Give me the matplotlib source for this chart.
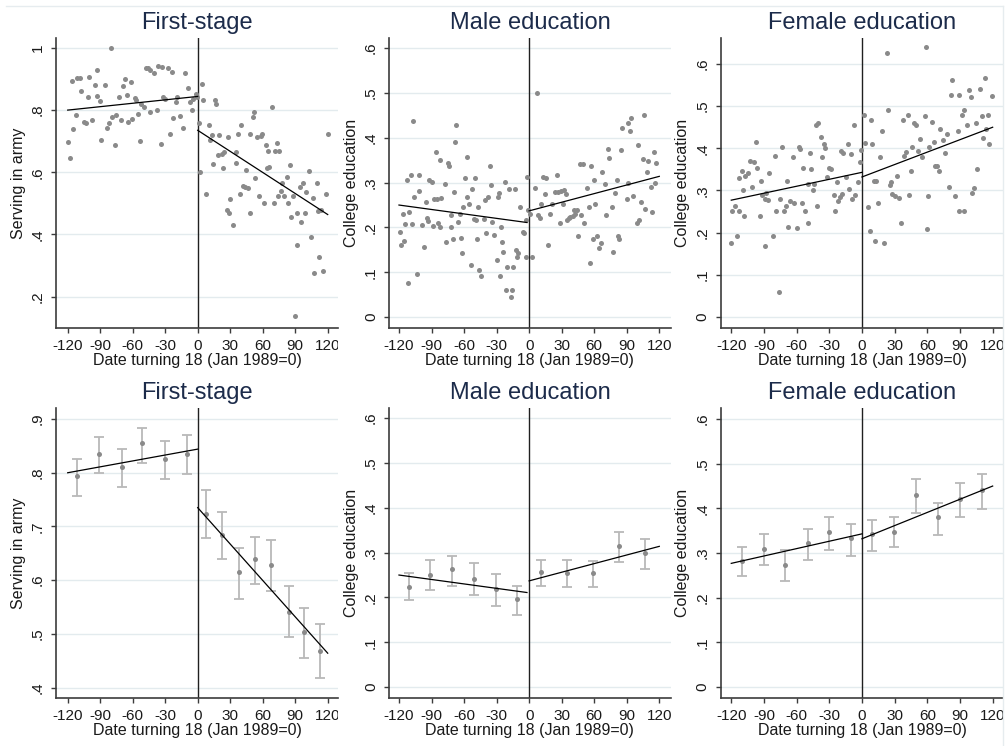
import matplotlib
matplotlib.use('Agg')
import matplotlib.pyplot as plt
from matplotlib.lines import Line2D
from matplotlib.transforms import Bbox, TransformedBbox

## Data
# Top row: monthly scatter, x = months relative to Jan 1989
fs_x = [-120, -118, -116, -115, -112, -111, -109, -108, -105, -103, -101, -100, -98, -95, -93,
        -93, -90, -89, -86, -84, -82, -80, -79, -76, -75, -73, -71, -69, -67, -65, -64, -62,
        -61, -58, -57, -55, -53, -52, -50, -48, -46, -44, -44, -40, -38, -37, -34, -33, -32,
        -30, -27, -26, -24, -23, -20, -19, -16, -14, -12, -9, -7, -5, -4, -2, -1,
        1, 2, 4, 5, 8, 10, 11, 13, 14, 16, 17, 19, 20, 22, 23, 24, 27, 28, 29, 30, 33, 35, 35,
        37, 39, 40, 42, 44, 45, 46, 48, 48, 51, 52, 53, 55, 57, 58, 59, 61, 63, 64, 66, 65, 69,
        70, 71, 73, 74, 75, 77, 78, 80, 82, 83, 85, 86, 88, 90, 92, 92, 94, 95, 97, 99, 100,
        103, 105, 106, 107, 110, 111, 112, 114, 116, 118, 120]
fs_y = [0.696, 0.647, 0.893, 0.738, 0.784, 0.902, 0.902, 0.861, 0.763, 0.759, 0.843, 0.905,
        0.768, 0.88, 0.93, 0.846, 0.83, 0.704, 0.88, 0.741, 0.76, 1.0, 0.779, 0.688, 0.784,
        0.843, 0.768, 0.877, 0.9, 0.85, 0.763, 0.889, 0.77, 0.84, 0.832, 0.789, 0.7, 0.821,
        0.811, 0.934, 0.934, 0.928, 0.793, 0.918, 0.8, 0.943, 0.69, 0.939, 0.843, 0.836, 0.934,
        0.722, 0.923, 0.776, 0.827, 0.843, 0.781, 0.743, 0.92, 0.872, 0.827, 0.8, 0.837, 0.853,
        0.843,
        0.757, 0.6, 0.883, 0.834, 0.53, 0.751, 0.704, 0.72, 0.627, 0.832, 0.821, 0.656, 0.72,
        0.659, 0.613, 0.666, 0.477, 0.712, 0.468, 0.513, 0.431, 0.631, 0.666, 0.722, 0.53,
        0.751, 0.557, 0.554, 0.607, 0.549, 0.722, 0.47, 0.779, 0.794, 0.581, 0.712, 0.524,
        0.717, 0.722, 0.5, 0.688, 0.613, 0.618, 0.669, 0.811, 0.5, 0.669, 0.693, 0.524, 0.669,
        0.541, 0.567, 0.524, 0.586, 0.5, 0.624, 0.456, 0.524, 0.139, 0.468, 0.367, 0.554,
        0.439, 0.567, 0.468, 0.538, 0.605, 0.391, 0.517, 0.276, 0.565, 0.474, 0.327, 0.477,
        0.281, 0.53, 0.722]

male_x = [-119, -118, -116, -115, -114, -113, -112, -111, -109, -108, -107, -106, -103, -102,
          -102, -99, -97, -95, -94, -93, -92, -90, -89, -88, -86, -85, -84, -82, -82, -81, -78,
          -77, -75, -74, -72, -72, -70, -69, -68, -67, -66, -64, -63, -62, -61, -59, -57, -57,
          -55, -54, -53, -51, -50, -49, -48, -47, -46, -44, -42, -41, -40, -38, -36, -35, -34,
          -32, -30, -29, -28, -27, -26, -25, -24, -22, -21, -20, -19, -17, -16, -15, -13, -12,
          -11, -10, -8, -6, -5, -3, -3, -2, -1,
          1, 3, 5, 7, 8, 10, 11, 13, 15, 16, 17, 19, 21, 24, 26, 27, 28, 29, 31, 32, 34, 35, 37,
          38, 40, 41, 42, 44, 45, 47, 48, 50, 51, 53, 55, 56, 57, 59, 60, 61, 63, 64, 66, 67, 70,
          71, 73, 74, 76, 77, 79, 81, 82, 83, 85, 86, 90, 91, 91, 93, 94, 96, 99, 100, 101, 103,
          105, 106, 107, 109, 110, 112, 113, 115, 116, 117]
male_y = [0.190, 0.161, 0.231, 0.170, 0.208, 0.306, 0.077, 0.234, 0.318, 0.208, 0.437, 0.269,
          0.097, 0.318, 0.282, 0.205, 0.157, 0.257, 0.222, 0.215, 0.306, 0.302, 0.203, 0.263,
          0.369, 0.263, 0.209, 0.35, 0.202, 0.265, 0.298, 0.167, 0.344, 0.336, 0.228, 0.202,
          0.175, 0.278, 0.391, 0.428, 0.213, 0.23, 0.176, 0.144, 0.246, 0.31, 0.358, 0.269,
          0.252, 0.116, 0.285, 0.218, 0.31, 0.217, 0.175, 0.246, 0.106, 0.092, 0.218, 0.261,
          0.188, 0.269, 0.336, 0.295, 0.213, 0.183, 0.127, 0.269, 0.276, 0.092, 0.202, 0.168,
          0.146, 0.302, 0.06, 0.112, 0.286, 0.045, 0.06, 0.112, 0.286, 0.15, 0.135, 0.142,
          0.245, 0.19, 0.187, 0.135, 0.217, 0.313, 0.239,
          0.231, 0.135, 0.289, 0.5, 0.228, 0.222, 0.252, 0.313, 0.275, 0.31, 0.16, 0.231,
          0.252, 0.28, 0.318, 0.28, 0.21, 0.282, 0.252, 0.283, 0.275, 0.217, 0.222, 0.224,
          0.225, 0.24, 0.23, 0.24, 0.181, 0.341, 0.228, 0.341, 0.21, 0.287, 0.246, 0.121,
          0.336, 0.175, 0.306, 0.252, 0.181, 0.155, 0.166, 0.324, 0.298, 0.228, 0.375, 0.356,
          0.246, 0.146, 0.276, 0.306, 0.181, 0.175, 0.373, 0.422, 0.263, 0.3, 0.432, 0.416,
          0.444, 0.27, 0.21, 0.384, 0.217, 0.257, 0.352, 0.45, 0.241, 0.323, 0.349, 0.291,
          0.234, 0.369, 0.3, 0.344]

fem_x = [-120, -119, -117, -115, -113, -113, -110, -109, -108, -107, -105, -103, -101, -99,
         -97, -96, -94, -93, -92, -89, -89, -88, -86, -85, -82, -80, -79, -76, -75, -73, -72,
         -70, -69, -68, -66, -63, -62, -60, -58, -57, -55, -54, -52, -50, -50, -48, -47, -45,
         -44, -42, -41, -40, -38, -37, -35, -34, -32, -30, -28, -26, -25, -23, -22, -20, -19,
         -18, -17, -15, -13, -12, -10, -9, -7, -6, -4, -2, -1,
         2, 3, 6, 7, 8, 9, 11, 12, 13, 15, 17, 18, 20, 23, 24, 26, 27, 28, 30, 32, 34, 36, 38,
         39, 40, 42, 43, 45, 46, 48, 50, 51, 53, 55, 58, 59, 60, 61, 62, 64, 66, 67, 69, 71,
         72, 74, 76, 78, 80, 82, 83, 85, 88, 89, 89, 92, 94, 94, 96, 98, 100, 101, 103, 105,
         106, 108, 110, 111, 113, 114, 116, 117, 119]
fem_y = [0.175, 0.252, 0.262, 0.193, 0.329, 0.252, 0.345, 0.301, 0.24, 0.334, 0.341, 0.371,
         0.308, 0.368, 0.416, 0.353, 0.24, 0.323, 0.289, 0.168, 0.279, 0.293, 0.277, 0.341,
         0.192, 0.382, 0.252, 0.059, 0.279, 0.404, 0.252, 0.262, 0.323, 0.214, 0.274, 0.379,
         0.27, 0.21, 0.404, 0.398, 0.27, 0.353, 0.252, 0.224, 0.315, 0.39, 0.35, 0.301, 0.315,
         0.455, 0.263, 0.459, 0.426, 0.379, 0.41, 0.4, 0.333, 0.353, 0.35, 0.289, 0.252, 0.319,
         0.274, 0.285, 0.394, 0.292, 0.39, 0.333, 0.41, 0.303, 0.387, 0.279, 0.455, 0.289,
         0.319, 0.368, 0.396,
         0.479, 0.413, 0.26, 0.205, 0.467, 0.41, 0.323, 0.179, 0.323, 0.27, 0.38, 0.44, 0.175,
         0.627, 0.492, 0.313, 0.321, 0.291, 0.287, 0.334, 0.283, 0.224, 0.467, 0.382, 0.392,
         0.479, 0.289, 0.345, 0.404, 0.461, 0.455, 0.394, 0.421, 0.379, 0.477, 0.641, 0.208,
         0.287, 0.404, 0.463, 0.416, 0.357, 0.359, 0.347, 0.447, 0.42, 0.39, 0.434, 0.309,
         0.526, 0.562, 0.287, 0.442, 0.526, 0.252, 0.479, 0.492, 0.252, 0.455, 0.538, 0.522,
         0.295, 0.305, 0.461, 0.35, 0.54, 0.477, 0.424, 0.566, 0.445, 0.479, 0.41, 0.525]

# Bottom row: binned means with confidence intervals
fs_bin_x = [-111, -91, -70, -51, -30, -10, 8, 22, 38, 53, 68, 84, 98, 113]
fs_bin_y = [0.794, 0.835, 0.81, 0.855, 0.825, 0.835, 0.723, 0.685, 0.615, 0.639, 0.629, 0.541, 0.503, 0.469]
fs_bin_lo = [0.757, 0.799, 0.773, 0.819, 0.788, 0.797, 0.678, 0.639, 0.564, 0.593, 0.579, 0.494, 0.455, 0.417]
fs_bin_hi = [0.826, 0.867, 0.845, 0.884, 0.86, 0.87, 0.768, 0.727, 0.659, 0.681, 0.674, 0.589, 0.548, 0.519]

male_bin_x = [-111, -91, -71, -51, -31, -11, 11, 35, 59, 83, 107]
male_bin_y = [0.224, 0.25, 0.263, 0.241, 0.218, 0.196, 0.256, 0.254, 0.254, 0.315, 0.3]
male_bin_lo = [0.194, 0.217, 0.226, 0.206, 0.181, 0.161, 0.226, 0.223, 0.223, 0.28, 0.263]
male_bin_hi = [0.255, 0.284, 0.293, 0.276, 0.252, 0.226, 0.284, 0.284, 0.281, 0.347, 0.33]

fem_bin_x = [-110, -90, -71, -50, -30, -10, 9, 29, 50, 70, 90, 110]
fem_bin_y = [0.283, 0.309, 0.274, 0.322, 0.348, 0.333, 0.343, 0.348, 0.43, 0.38, 0.422, 0.441]
fem_bin_lo = [0.249, 0.273, 0.238, 0.284, 0.307, 0.293, 0.305, 0.313, 0.39, 0.34, 0.381, 0.398]
fem_bin_hi = [0.314, 0.343, 0.307, 0.355, 0.381, 0.366, 0.374, 0.381, 0.465, 0.413, 0.456, 0.478]

# Linear fits on each side of the cutoff
fs_fit_left_x, fs_fit_left_y = [-120, 0], [0.80, 0.844]
fs_fit_right_x, fs_fit_right_y = [0, 120], [0.735, 0.464]
male_fit_left_x, male_fit_left_y = [-120, -2], [0.25, 0.211]
male_fit_right_x, male_fit_right_y = [0, 120], [0.237, 0.314]
fem_fit_left_x, fem_fit_left_y = [-120, 0], [0.277, 0.343]
fem_fit_right_x, fem_fit_right_y = [0, 120], [0.332, 0.45]

xticks = [-120, -90, -60, -30, 0, 30, 60, 90, 120]
titles = ['First-stage', 'Male education', 'Female education']
ylabels = ['Serving in army', 'College education', 'College education']
xlabel = 'Date turning 18 (Jan 1989=0)'

## Layout (pixels)
W, H = 1008, 746
plt.rcParams['font.family'] = ['Liberation Sans', 'DejaVu Sans']
fig = plt.figure(figsize=(W / 100, H / 100), dpi=100)
fig.patch.set_facecolor('white')

cols = [(56, 338, (-130.8, 129.5)),
        (389, 671, (-129.2, 130.8)),
        (720.7, 1003, (-129.7, 129.5))]
rows = [(38.3, 328.3), (408.3, 698.3)]

PT_GRAY = '#8a8a8a'
AX_COL = '#3c3c3c'
TXT_COL = '#1a1a1a'
TITLE_COL = '#1c2b4a'

# faint outer frame of the combined graph
fig.add_artist(Line2D([6 / W, 1003 / W], [1 - 6 / H, 1 - 6 / H], color='#e6ecef', lw=1))
fig.add_artist(Line2D([1003 / W, 1003 / W], [0, 1 - 6 / H], color='#e6ecef', lw=1))


def make_panel(col, row, ylim, yticks, ytlabels, title, ylabel):
    left, right, xlim = cols[col]
    top, bottom = rows[row]
    ax = fig.add_axes([left / W, 1 - bottom / H, (right - left) / W, (bottom - top) / H])
    ax.set_xlim(xlim)
    ax.set_ylim(ylim)
    for s in ['top', 'right']:
        ax.spines[s].set_visible(False)
    for s in ['left', 'bottom']:
        ax.spines[s].set_color(AX_COL)
        ax.spines[s].set_linewidth(1.2)
    ax.set_axisbelow(True)
    ax.set_yticks(yticks)
    ax.set_yticklabels(ytlabels, rotation=90, va='center')
    ax.set_xticks(xticks)
    ax.set_xticklabels([str(t) for t in xticks])
    ax.yaxis.grid(True, color='#e3ebee', lw=1)
    ax.tick_params(length=3.8, width=1, color=AX_COL, labelsize=11,
                   labelcolor=TXT_COL, pad=4.2)
    ax.set_title(title, fontsize=17, color=TITLE_COL, pad=6.5)
    ax.set_ylabel(ylabel, fontsize=11.5, color=TXT_COL)
    ax.yaxis.set_label_coords(-0.108, 0.5)
    ax.set_xlabel(xlabel, fontsize=11.5, color=TXT_COL)
    ax.xaxis.set_label_coords((0 - xlim[0]) / (xlim[1] - xlim[0]), -0.085)
    # Each sub-graph is cut off at its right edge (the '120' label gets clipped)
    clip = TransformedBbox(Bbox.from_extents(0, 0, right / W, 1), fig.transFigure)
    for tk in ax.xaxis.get_major_ticks():
        tk.label1.set_clip_box(clip)
        tk.label1.set_clip_on(True)
    ax.axvline(0, color='#202020', lw=1)
    return ax


ylims_top = [(0.098, 1.031), (-0.025, 0.622), (-0.027, 0.661)]
ylims_bot = [(0.38, 0.92), (-0.025, 0.622), (-0.025, 0.624)]
edu_ticks = [0, 0.1, 0.2, 0.3, 0.4, 0.5, 0.6]
edu_labels = ['0', '.1', '.2', '.3', '.4', '.5', '.6']
yt_top = [([0.2, 0.4, 0.6, 0.8, 1.0], ['.2', '.4', '.6', '.8', '1']),
          (edu_ticks, edu_labels), (edu_ticks, edu_labels)]
yt_bot = [([0.4, 0.5, 0.6, 0.7, 0.8, 0.9], ['.4', '.5', '.6', '.7', '.8', '.9']),
          (edu_ticks, edu_labels), (edu_ticks, edu_labels)]

scatter_data = [(fs_x, fs_y), (male_x, male_y), (fem_x, fem_y)]
bin_data = [(fs_bin_x, fs_bin_y, fs_bin_lo, fs_bin_hi),
            (male_bin_x, male_bin_y, male_bin_lo, male_bin_hi),
            (fem_bin_x, fem_bin_y, fem_bin_lo, fem_bin_hi)]
fits = [((fs_fit_left_x, fs_fit_left_y), (fs_fit_right_x, fs_fit_right_y)),
        ((male_fit_left_x, male_fit_left_y), (male_fit_right_x, male_fit_right_y)),
        ((fem_fit_left_x, fem_fit_left_y), (fem_fit_right_x, fem_fit_right_y))]

for i in range(3):
    # top row: raw monthly means
    ax = make_panel(i, 0, ylims_top[i], yt_top[i][0], yt_top[i][1], titles[i], ylabels[i])
    sx, sy = scatter_data[i]
    ax.scatter(sx, sy, s=13, color=PT_GRAY, linewidths=0, zorder=3)
    for fx, fy in fits[i]:
        ax.plot(fx, fy, color='black', lw=0.9, zorder=4)

    # bottom row: binned means with CIs
    ax = make_panel(i, 1, ylims_bot[i], yt_bot[i][0], yt_bot[i][1], titles[i], ylabels[i])
    bx, by, blo, bhi = bin_data[i]
    yerr = [[m - l for m, l in zip(by, blo)], [h - m for m, h in zip(by, bhi)]]
    ax.errorbar(bx, by, yerr=yerr, fmt='none', ecolor='#b9b9b9', elinewidth=1.3,
                capsize=3.3, capthick=1.3, zorder=2)
    ax.scatter(bx, by, s=13, color=PT_GRAY, linewidths=0, zorder=3)
    for fx, fy in fits[i]:
        ax.plot(fx, fy, color='black', lw=0.9, zorder=4)

fig.savefig('out.png', dpi=100, facecolor='white')
